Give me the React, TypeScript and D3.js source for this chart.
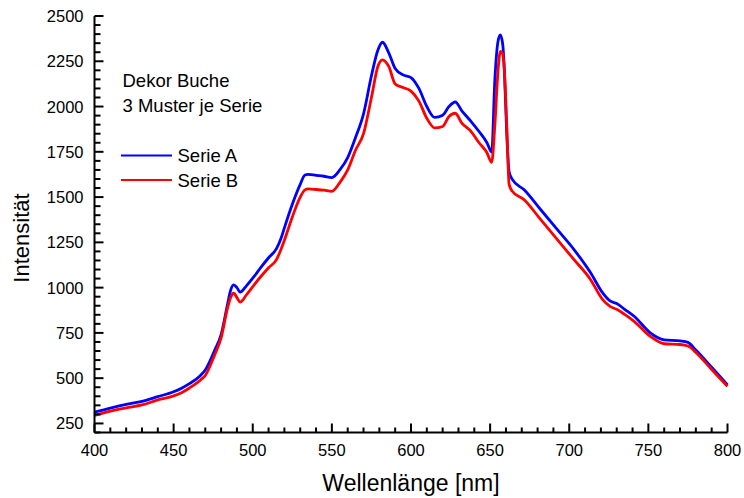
import React from "react";
import * as d3 from "d3";

const wavelengths = [400,410,420,430,440,450,455,460,467,470,476,480,484,486,488,490,492,496,501,505,510,515,518,520,525,530,533,535,540,545,550,555,560,565,570,575,579,582,586,590,595,600,605,610,615,620,624,628,632,638,643,648,651,653,655,656.5,658,659,660.5,662,664,671.5,682,692.5,703,713.5,721,726,730,735,741,751,760,770,775,780,790,800];

const serieA = [312,335,355,372,398,425,445,470,515,545,655,740,905,985,1015,1000,975,1010,1063,1110,1165,1215,1275,1330,1460,1570,1622,1625,1620,1615,1608,1650,1718,1830,1960,2170,2310,2355,2295,2210,2175,2160,2100,2000,1940,1952,2000,2025,1978,1917,1862,1800,1748,2150,2360,2395,2340,2200,1850,1640,1598,1540,1430,1320,1210,1082,972,925,912,880,842,752,712,706,698,655,560,463];

const serieB = [294,318,336,352,380,402,420,446,490,515,630,722,885,945,970,945,920,960,1017,1060,1110,1155,1215,1262,1390,1500,1540,1545,1542,1538,1532,1580,1650,1760,1850,2050,2220,2258,2220,2125,2105,2085,2030,1935,1882,1890,1945,1963,1910,1862,1800,1745,1692,1900,2200,2305,2290,2200,1900,1570,1532,1485,1375,1265,1155,1044,935,895,880,852,814,732,690,686,678,642,548,455];

const xTicks = [400,450,500,550,600,650,700,750,800];
const yTicks = [250,500,750,1000,1250,1500,1750,2000,2250,2500];
const legendNote = ["Dekor Buche", "3 Muster je Serie"];
const seriesNames = ["Serie A", "Serie B"];
const seriesColors = ["#0000ff", "#ff0000"];

export default function App() {
  const W = 744, H = 498;
  const x0 = 94.5, x1 = 727.5, yTop = 16, yBot = 432.5;
  const x = d3.scaleLinear().domain([400, 800]).range([x0, x1]);
  const y = d3.scaleLinear().domain([200, 2500]).range([yBot, yTop]);
  const line = d3
    .line<number>()
    .x((_, i) => x(wavelengths[i]))
    .y((d) => y(d))
    .curve(d3.curveMonotoneX);

  const xMinor = d3.range(400, 801, 10).filter((v) => v % 50 !== 0);
  const yMinor = d3.range(200, 2501, 50).filter((v) => v % 250 !== 0);
  const font = "Liberation Sans, Arial, sans-serif";

  return (
    <svg width={W} height={H} style={{ position: "absolute", left: 0, top: 0, background: "#fff" }} fontFamily={font}>
      {/* data lines */}
      <path d={line(serieA) || ""} fill="none" stroke={seriesColors[0]} strokeWidth={2.8} strokeLinejoin="round" />
      <path d={line(serieB) || ""} fill="none" stroke={seriesColors[1]} strokeWidth={2.8} strokeLinejoin="round" />

      {/* axes */}
      <g stroke="#000" strokeWidth={2}>
        <line x1={x0} y1={yTop} x2={x0} y2={yBot} />
        <line x1={x0} y1={yBot} x2={x1} y2={yBot} />
        {yTicks.map((t) => (
          <line key={"ym" + t} x1={x0} x2={x0 + 9} y1={y(t)} y2={y(t)} />
        ))}
        {yMinor.map((t) => (
          <line key={"yn" + t} x1={x0} x2={x0 + 6} y1={y(t)} y2={y(t)} />
        ))}
        {xTicks.map((t) => (
          <line key={"xm" + t} x1={x(t)} x2={x(t)} y1={yBot} y2={yBot - 9} />
        ))}
        {xMinor.map((t) => (
          <line key={"xn" + t} x1={x(t)} x2={x(t)} y1={yBot} y2={yBot - 5} />
        ))}
      </g>
      <g fontSize={16.5} fill="#000">
        {yTicks.map((t) => (
          <text key={"yl" + t} x={83.5} y={y(t)} textAnchor="end" dominantBaseline="central">
            {t}
          </text>
        ))}
        {xTicks.map((t) => (
          <text key={"xl" + t} x={x(t)} y={456} textAnchor="middle">
            {t}
          </text>
        ))}
      </g>
      <text x={(x0 + x1) / 2} y={491} fontSize={23} textAnchor="middle">
        Wellenlänge [nm]
      </text>
      <text transform="translate(29,238) rotate(-90)" fontSize={22} textAnchor="middle">
        Intensität
      </text>

      {/* legend */}
      <g fontSize={18.5}>
        <text x={122.5} y={87}>{legendNote[0]}</text>
        <text x={122.5} y={112}>{legendNote[1]}</text>
        {seriesNames.map((n, i) => (
          <g key={n}>
            <line x1={121} x2={172} y1={155.5 + i * 24.5} y2={155.5 + i * 24.5} stroke={seriesColors[i]} strokeWidth={2} />
            <text x={177.5} y={162 + i * 24.5}>{n}</text>
          </g>
        ))}
      </g>
    </svg>
  );
}
